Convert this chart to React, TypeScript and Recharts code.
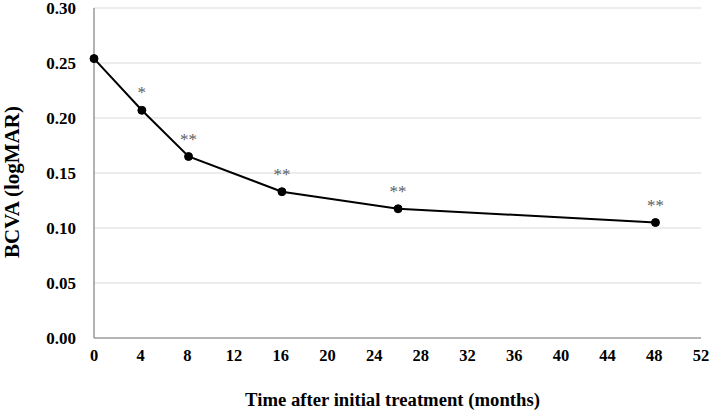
import React from "react";
import { LineChart, Line, XAxis, YAxis, CartesianGrid, LabelList } from "recharts";

const months = [0, 4.1, 8.1, 16.1, 26.05, 48.1];
const bcva = [0.254, 0.207, 0.165, 0.133, 0.1175, 0.105];
const marks = ["", "*", "**", "**", "**", "**"];
const xTicks = [0, 4, 8, 12, 16, 20, 24, 28, 32, 36, 40, 44, 48, 52];
const yTicks = [0, 0.05, 0.1, 0.15, 0.2, 0.25, 0.3];
const xTitle = "Time after initial treatment (months)";
const yTitle = "BCVA (logMAR)";

const data = months.map((m, i) => ({ month: m, value: bcva[i], mark: marks[i] }));

const FONT = '"Liberation Serif", "Times New Roman", serif';

const YTitle = (props: any) => {
  const { viewBox } = props;
  const cx = 19;
  const cy = viewBox.y + viewBox.height / 2 + 9;
  return (
    <text
      x={cx}
      y={cy}
      transform={`rotate(-90 ${cx} ${cy})`}
      textAnchor="middle"
      fontFamily={FONT}
      fontWeight="bold"
      fontSize={21}
      fill="#000"
    >
      {yTitle}
    </text>
  );
};

const XTitle = (props: any) => {
  const { viewBox } = props;
  const cx = viewBox.x + viewBox.width / 2 - 5;
  return (
    <text
      x={cx}
      y={406}
      textAnchor="middle"
      fontFamily={FONT}
      fontWeight="bold"
      fontSize={18.7}
      fill="#000"
    >
      {xTitle}
    </text>
  );
};

const Mark = (props: any) => {
  const { x, y, width, value } = props;
  if (!value) return null;
  const cx = x + (width || 0) / 2;
  return (
    <text
      x={cx}
      y={y - 12}
      textAnchor="middle"
      fontFamily={FONT}
      fontSize={17}
      fill="#606060"
    >
      {value}
    </text>
  );
};

export default function App() {
  return (
    <div style={{ position: "absolute", left: 0, top: 0, width: 710, height: 411, background: "#fff" }}>
      <LineChart
        width={710}
        height={411}
        data={data}
        margin={{ top: 8, right: 9, left: 0, bottom: 0 }}
      >
        <CartesianGrid vertical={false} stroke="#d9d9d9" strokeWidth={1.2} />
        <XAxis
          dataKey="month"
          type="number"
          domain={[0, 52]}
          ticks={xTicks}
          interval={0}
          height={73}
          axisLine={{ stroke: "#7f7f7f", strokeWidth: 1.2 }}
          tickLine={false}
          tickSize={0}
          tickMargin={11}
          tick={{ fontFamily: FONT, fontWeight: "bold", fontSize: 16.5, fill: "#000" }}
          label={<XTitle />}
        />
        <YAxis
          type="number"
          domain={[0, 0.3]}
          ticks={yTicks}
          interval={0}
          width={94}
          axisLine={{ stroke: "#7f7f7f", strokeWidth: 1.2 }}
          tickLine={false}
          tickSize={0}
          tickMargin={18}
          tickFormatter={(v: number) => v.toFixed(2)}
          tick={{ fontFamily: FONT, fontWeight: "bold", fontSize: 17, fill: "#000" }}
          label={<YTitle />}
        />
        <Line
          dataKey="value"
          stroke="#000"
          strokeWidth={2}
          dot={{ r: 4, fill: "#000", stroke: "#000", strokeWidth: 1 }}
          isAnimationActive={false}
        >
          <LabelList dataKey="mark" content={<Mark />} />
        </Line>
      </LineChart>
    </div>
  );
}
